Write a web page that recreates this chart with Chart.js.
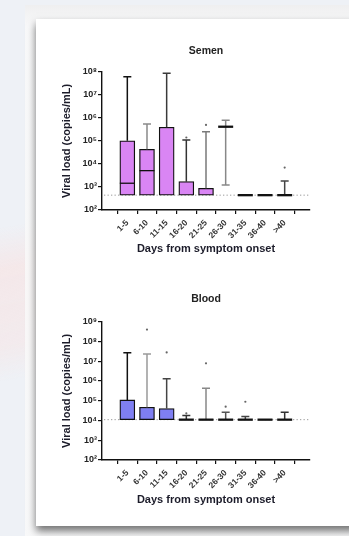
<!DOCTYPE html>
<html>
<head>
<meta charset="utf-8">
<script src="https://cdn.jsdelivr.net/npm/chart.js@4.4.1/dist/chart.umd.min.js"></script>
<style>
  html, body { margin: 0; padding: 0; width: 349px; height: 536px; overflow: hidden; }
  body {
    background:
      linear-gradient(170deg, rgba(255,255,255,0) 38%, rgba(247,228,228,0.7) 45%, rgba(247,228,228,0.5) 58%, rgba(255,255,255,0) 64%),
      #eef1f6;
  }
  #frame {
    position: absolute; left: 25px; top: 5px; width: 340px; height: 540px;
    background: linear-gradient(#efeff0, rgba(250,250,250,0.85) 22px);
  }
  #sheet {
    position: absolute; left: 36px; top: 19px; width: 330px; height: 507px;
    background: #fff; box-shadow: 0 5px 8px rgba(0,0,0,0.55);
  }
  canvas.panel { position: absolute; left: 36px; }
</style>
</head>
<body>
<div id="frame"></div>
<div id="sheet"></div>
<canvas id="semenChart" class="panel" style="top:19px" width="313" height="245"></canvas>
<canvas id="bloodChart" class="panel" style="top:269px" width="313" height="245"></canvas>

<script>
// Days from symptom onset (x categories)
const days = ['1-5', '6-10', '11-15', '16-20', '21-25', '26-30', '31-35', '36-40', '>40'];

// Decade tick labels
const semenTicks = ['10²', '10³', '10⁴', '10⁵', '10⁶', '10⁷', '10⁸'];
const bloodTicks = ['10²', '10³', '10⁴', '10⁵', '10⁶', '10⁷', '10⁸', '10⁹'];

// Semen viral load, copies/mL (box: Q1..Q3, whiskers: min..max)
const semenLOD = 440;
const semenMin    = [440, 440, 440, 440, 440, 1200, 440, 440, 440];
const semenQ1     = [440, 440, 440, 440, 440, 410000, 440, 440, 440];
const semenMedian = [1450, 5100, 440, 440, 440, 410000, 440, 440, 440];
const semenQ3     = [100000, 43000, 390000, 1700, 870, 410000, 440, 440, 440];
const semenMax    = [60000000, 540000, 85000000, 110000, 250000, 790000, 440, 440, 1800];
const semenOutliers = [[], [], [], [140000], [490000], [], [], [], [6900]];

// Blood viral load, copies/mL
const bloodLOD = 11000;
const bloodMin    = [11000, 11000, 11000, 11000, 11000, 11000, 11000, 11000, 11000];
const bloodQ1     = [11000, 11000, 11000, 11000, 11000, 11000, 11000, 11000, 11000];
const bloodMedian = [11000, 11000, 11000, 11000, 11000, 11000, 11000, 11000, 11000];
const bloodQ3     = [110000, 47000, 40000, 11000, 11000, 11000, 11000, 11000, 11000];
const bloodMax    = [27000000, 23000000, 1300000, 18000, 430000, 26000, 16000, 11000, 26000];
const bloodOutliers = [[], [400000000], [28000000], [23000], [7800000], [50000], [89000], [], []];

// Whisker stroke colours per category
const semenWhiskerColors = ['#111', '#8a8a8a', '#3a3a3a', '#333', '#7a7a7a', '#888', '#111', '#111', '#444'];
const bloodWhiskerColors = ['#111', '#9a9a9a', '#444', '#333', '#888', '#555', '#444', '#111', '#333'];

const FONT = "'Liberation Sans', Arial, Helvetica, sans-serif";
const BOX_WIDTH = 15;
const CAP_WIDTH = 8;

// Draws the detection-limit line, whiskers, caps and medians
function boxWhiskerPlugin(s) {
  return {
    id: 'boxWhiskers',
    beforeDatasetsDraw(chart) {
      const { ctx, chartArea: a, scales: { y } } = chart;
      const yl = y.getPixelForValue(s.lod);
      ctx.save();
      ctx.strokeStyle = '#9c9c9c';
      ctx.lineWidth = 1;
      ctx.setLineDash([1.3, 2.2]);
      ctx.beginPath();
      ctx.moveTo(a.left + 2, yl);
      ctx.lineTo(a.right, yl);
      ctx.stroke();
      ctx.restore();
    },
    afterDatasetsDraw(chart) {
      const { ctx, scales: { x, y } } = chart;
      ctx.save();
      ctx.lineCap = 'butt';
      s.q1.forEach((q1, i) => {
        const cx = x.getPixelForValue(i);
        const half = BOX_WIDTH / 2, cap = CAP_WIDTH / 2;
        ctx.strokeStyle = s.colors[i];
        ctx.lineWidth = 1.5;
        const seg = (v0, v1) => {
          const y0 = y.getPixelForValue(v0), y1 = y.getPixelForValue(v1);
          ctx.beginPath();
          ctx.moveTo(cx, y0); ctx.lineTo(cx, y1);
          ctx.moveTo(cx - cap, y1); ctx.lineTo(cx + cap, y1);
          ctx.stroke();
        };
        if (s.max[i] > s.q3[i]) seg(s.q3[i], s.max[i]);
        if (s.min[i] < q1) seg(q1, s.min[i]);
        ctx.strokeStyle = '#111';
        const ym = y.getPixelForValue(s.median[i]);
        if (s.q3[i] <= q1) {
          ctx.lineWidth = 2.3;
          ctx.beginPath(); ctx.moveTo(cx - half, ym); ctx.lineTo(cx + half, ym); ctx.stroke();
        } else if (s.median[i] > q1) {
          ctx.lineWidth = 1.3;
          ctx.beginPath(); ctx.moveTo(cx - half, ym); ctx.lineTo(cx + half, ym); ctx.stroke();
        }
      });
      ctx.restore();
    }
  };
}

function buildChart(id, title, fill, yMax, tickLabels, s, pads) {
  const decades = tickLabels.map((_, i) => Math.pow(10, i + 2));
  const boxes = days
    .map((d, i) => (s.q3[i] > s.q1[i] ? { x: i, y: [s.q1[i], s.q3[i]] } : null))
    .filter(Boolean);
  const dots = days.flatMap((d, i) => s.outliers[i].map(v => ({ x: i, y: v })));

  return new Chart(document.getElementById(id), {
    data: {
      datasets: [
        {
          type: 'bar',
          data: boxes,
          backgroundColor: fill,
          borderColor: '#111',
          borderWidth: 1.3,
          borderSkipped: false,
          barThickness: BOX_WIDTH
        },
        {
          type: 'scatter',
          data: dots,
          pointRadius: 1.1,
          pointBackgroundColor: '#666',
          pointBorderWidth: 0
        }
      ]
    },
    options: {
      responsive: false,
      animation: false,
      events: [],
      layout: { padding: { left: 0, right: 39, top: 0, bottom: 0 } },
      plugins: {
        legend: { display: false },
        tooltip: { enabled: false },
        title: {
          display: true,
          text: title,
          fullSize: false,
          color: '#222',
          font: { family: FONT, size: 10.5, weight: 'bold' },
          padding: { top: pads.titleTop, bottom: 52.7 - pads.titleTop - 12.6 }
        }
      },
      scales: {
        x: {
          type: 'linear',
          min: -0.7,
          max: 8.7,
          afterBuildTicks: sc => { sc.ticks = days.map((_, i) => ({ value: i })); },
          afterFit: sc => { sc.height = 54; },
          ticks: {
            autoSkip: false,
            maxRotation: 45,
            minRotation: 45,
            padding: 4,
            color: '#333',
            font: { family: FONT, size: 8.5, weight: 'bold' },
            callback: v => days[v]
          },
          grid: { display: true, drawOnChartArea: false, drawTicks: true, tickLength: 4, color: '#111', lineWidth: 1.2 },
          border: { display: true, color: '#111', width: 1.4 },
          title: {
            display: true,
            text: 'Days from symptom onset',
            color: '#1c1c2a',
            font: { family: FONT, size: 11, weight: 'bold' },
            padding: { top: 0, bottom: pads.xTitleBottom }
          }
        },
        y: {
          type: 'logarithmic',
          min: 100,
          max: yMax,
          afterBuildTicks: sc => { sc.ticks = decades.map(v => ({ value: v })); },
          afterFit: sc => { sc.width = 66; },
          ticks: {
            autoSkip: false,
            padding: 1,
            color: '#222',
            font: { family: FONT, size: 9, weight: 'bold' },
            callback: (v, i) => tickLabels[i]
          },
          grid: { display: true, drawOnChartArea: false, drawTicks: true, tickLength: 4, color: '#111', lineWidth: 1.2 },
          border: { display: true, color: '#111', width: 1.4 },
          title: {
            display: true,
            text: 'Viral load (copies/mL)',
            color: '#1c1c2a',
            font: { family: FONT, size: 11, weight: 'bold' },
            padding: { top: 24.4, bottom: 0 }
          }
        }
      }
    },
    plugins: [boxWhiskerPlugin(s)]
  });
}

buildChart('semenChart', 'Semen', '#d985f4', 1e8, semenTicks, {
  lod: semenLOD, min: semenMin, q1: semenQ1, median: semenMedian, q3: semenQ3,
  max: semenMax, outliers: semenOutliers, colors: semenWhiskerColors
}, { titleTop: 25.4, xTitleBottom: 8.1 });

buildChart('bloodChart', 'Blood', '#7f7ff2', 1e9, bloodTicks, {
  lod: bloodLOD, min: bloodMin, q1: bloodQ1, median: bloodMedian, q3: bloodQ3,
  max: bloodMax, outliers: bloodOutliers, colors: bloodWhiskerColors
}, { titleTop: 24.0, xTitleBottom: 7.4 });
</script>
</body>
</html>
